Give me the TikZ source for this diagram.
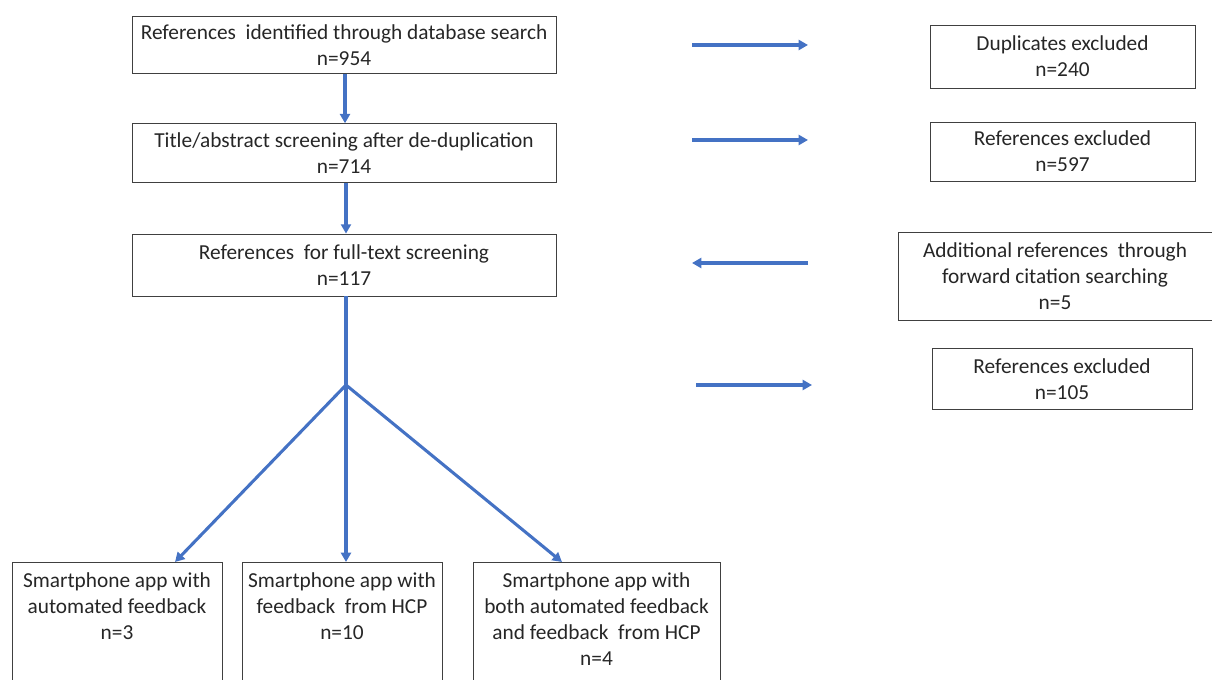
\documentclass[tikz,border=0pt]{standalone}
\usepackage{fontspec}
\setmainfont{Carlito}
\usetikzlibrary{arrows.meta,calc,positioning}

\definecolor{flowblue}{RGB}{68,114,196}

\tikzset{
  box/.style={draw=black!75, line width=0.6pt, align=center, inner sep=2pt,
    font=\fontsize{16}{19.5}\selectfont, text=black!85},
  flow/.style={flowblue, line width=2.3pt, -{Triangle[length=7pt,width=7.5pt]}},
  trunk/.style={flowblue, line width=2.3pt}
}

\begin{document}
\begin{tikzpicture}[x=0.75pt, y=-0.75pt]
\useasboundingbox (0,0) rectangle (1212,680);
\clip (0,0) rectangle (1212,680);
% main column
\node[box, minimum width=318pt, minimum height=43pt] (search) at (344,45) {References\ \ identified through database search\\n=954};
\node[box, minimum width=318pt, minimum height=44pt] (screen) at (344,153) {Title/abstract screening after de-duplication\\n=714};
\node[box, minimum width=318pt, minimum height=46.5pt] (fulltext) at (344,265) {References\ \ for full-text screening\\n=117};
% side column
\node[box, minimum width=198.75pt, minimum height=47.25pt] (dupl) at (1062.5,56.5) {Duplicates excluded\\n=240};
\node[box, minimum width=198.75pt, minimum height=44.25pt] (excl1) at (1062.5,151.5) {References excluded\\n=597};
\node[box, minimum width=235.5pt, minimum height=66pt] (forward) at (1055,276.5) {Additional references\ \ through\\forward citation searching\\n=5};
\node[box, minimum width=195pt, minimum height=45.75pt] (excl2) at (1062,379) {References excluded\\n=105};
% bottom row, boxes run off the page
\node[box, anchor=north, minimum width=157.5pt, inner ysep=8pt, text depth=70pt] (autoapp) at (117,562) {Smartphone app with\\automated feedback\\n=3};
\node[box, anchor=north, minimum width=150pt, inner ysep=8pt, text depth=70pt] (hcpapp) at (342,562) {Smartphone app with\\feedback\ \ from HCP\\n=10};
\node[box, anchor=north, minimum width=185.25pt, inner ysep=8pt, text depth=70pt] (bothapp) at (596.5,562) {Smartphone app with\\both automated feedback\\and feedback\ \ from HCP\\n=4};
% free arrows
\coordinate (a1s) at (692,45);  \coordinate (a1e) at (808,45);
\coordinate (a2s) at (692,140); \coordinate (a2e) at (808,140);
\coordinate (a3s) at (808,263); \coordinate (a3e) at (692,263);
\coordinate (a4s) at (696,385); \coordinate (a4e) at (812,385);
\coordinate (split) at (346,385);
\draw[flow] (search.south -| 345,0) -- (screen.north -| 345,0);
\draw[flow] (screen.south -| 346,0) -- (fulltext.north -| 346,0);
\draw[trunk] (fulltext.south -| split) -- (split);
\draw[flow] (split) -- ([xshift=43.5pt]autoapp.north);
\draw[flow] (split) -- ([xshift=3pt]hcpapp.north);
\draw[flow] (split) -- ([xshift=-25.9pt]bothapp.north);
\draw[flow] (a1s) -- (a1e);
\draw[flow] (a2s) -- (a2e);
\draw[flow] (a3s) -- (a3e);
\draw[flow] (a4s) -- (a4e);
\end{tikzpicture}
\end{document}
